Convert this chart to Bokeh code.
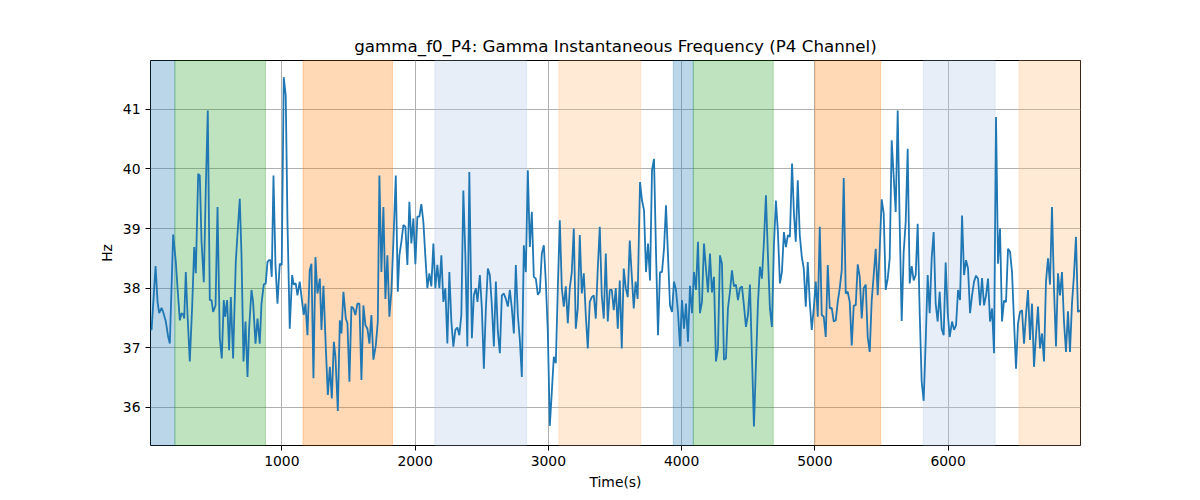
from bokeh.plotting import figure
from bokeh.models import Range1d, FixedTicker
from bokeh.embed import file_html
from bokeh.resources import INLINE

# sample times and gamma frequency
times = [14, 22, 52, 67, 79, 97, 109, 129, 147, 159, 184, 204, 217, 234, 247, 259, 267, 279, 292, 309,
         327, 342, 354, 372, 384, 397, 414, 429, 444, 459, 472, 484, 502, 517, 534, 549, 564, 574, 589, 604,
         617, 634, 654, 664, 684, 697, 712, 727, 742, 754, 772, 784, 802, 817, 834, 847, 864, 879, 892, 904,
         914, 924, 937, 952, 967, 984, 999, 1014, 1029, 1042, 1059, 1077, 1089, 1104, 1117, 1134, 1152, 1164,
         1177, 1192, 1209,
         1222, 1237, 1252, 1267, 1285, 1297, 1312, 1330, 1345, 1360, 1375, 1390, 1402, 1420, 1435, 1447, 1462,
         1480, 1492, 1507, 1522, 1537, 1552, 1567, 1582, 1597, 1612, 1627, 1642, 1657, 1672, 1687, 1705, 1720,
         1732, 1747, 1762, 1777, 1792, 1807, 1822, 1837, 1855, 1870, 1882, 1897, 1912, 1927, 1942, 1957, 1972,
         1987, 2002, 2017, 2032, 2047, 2062, 2077, 2092, 2107, 2122, 2137, 2152, 2167, 2182, 2197, 2212, 2227,
         2242, 2257, 2272, 2287, 2302, 2317, 2332, 2347, 2362, 2377, 2392, 2407,
         2426, 2441, 2456, 2468, 2486, 2501, 2516, 2531, 2546, 2561, 2576, 2591, 2606, 2621, 2636, 2651, 2666,
         2681, 2696, 2711, 2726, 2741, 2756, 2771, 2786, 2801, 2816, 2831, 2846, 2861, 2876, 2891, 2906, 2921,
         2936, 2951, 2966, 2981, 2996, 3011, 3026, 3041, 3056, 3071, 3086, 3101, 3116, 3131, 3146, 3161, 3176,
         3191, 3206, 3221, 3236, 3251, 3266, 3281, 3296, 3311, 3326, 3341, 3356, 3371, 3386, 3401, 3416, 3431,
         3446, 3461, 3476, 3491, 3506, 3521, 3536, 3551, 3566, 3581, 3596, 3611,
         3623, 3641, 3655, 3670, 3688, 3703, 3718, 3733, 3748, 3763, 3778, 3793, 3808, 3823, 3838, 3853, 3868,
         3883, 3898, 3913, 3928, 3943, 3958, 3973, 3988, 4003, 4018, 4033, 4048, 4063, 4078, 4093, 4108, 4123,
         4138, 4153, 4168, 4183, 4198, 4213, 4228, 4243, 4258, 4273, 4288, 4303, 4318, 4333, 4348, 4363, 4378,
         4393, 4408, 4423, 4438, 4453, 4468, 4483, 4498, 4513, 4528, 4543, 4558, 4573, 4588, 4603, 4618, 4633,
         4648, 4663, 4678, 4693, 4708, 4723, 4738, 4753, 4768, 4783, 4798, 4813,
         4829, 4844, 4857, 4872, 4887, 4902, 4917, 4932, 4947, 4962, 4977, 4992, 5007, 5022, 5037, 5052, 5067,
         5082, 5097, 5112, 5127, 5142, 5157, 5172, 5187, 5202, 5217, 5232, 5247, 5262, 5277, 5292, 5307, 5322,
         5337, 5352, 5367, 5382, 5397, 5412, 5427, 5442, 5457, 5472, 5487, 5502, 5517, 5532, 5547, 5562, 5577,
         5592, 5607, 5622, 5637, 5652, 5667, 5682, 5697, 5712, 5727, 5742, 5757, 5772, 5787, 5802, 5817, 5832,
         5847, 5862, 5877, 5892, 5907, 5922, 5937, 5952, 5967, 5982, 5997, 6012,
         6030, 6045, 6060, 6075, 6090, 6105, 6120, 6135, 6150, 6165, 6180, 6195, 6210, 6225, 6240, 6255, 6270,
         6285, 6300, 6315, 6330, 6345, 6360, 6375, 6390, 6405, 6420, 6435, 6450, 6465, 6480, 6495, 6510, 6525,
         6540, 6555, 6570, 6585, 6600, 6615, 6630, 6645, 6660, 6675, 6690, 6705, 6720, 6735, 6750, 6765, 6780,
         6795, 6810, 6825, 6840, 6855, 6870, 6885, 6900, 6915, 6930, 6945, 6960, 6975, 6990]

hz = [37.32, 37.30, 38.37, 37.77, 37.58, 37.67, 37.60, 37.44, 37.18, 37.07, 38.90, 38.44, 38.00, 37.46, 37.58,
      37.56, 37.49, 38.27, 37.55, 36.77, 37.71, 38.69, 38.25, 39.92, 39.89, 38.78, 38.10, 39.67, 40.98, 37.80,
      37.80, 37.60, 37.71, 39.36, 37.16, 36.82, 37.80, 37.52, 37.80, 36.96, 37.85, 36.82, 38.44, 38.80, 39.50,
      38.55, 36.77, 37.44, 36.51, 37.32, 37.97, 37.77, 37.07, 37.49, 37.07, 37.74, 38.06, 38.08, 38.44, 38.47,
      38.47, 38.19, 39.89, 38.39, 37.74, 38.41, 38.39, 41.54, 41.23, 39.11, 37.32, 38.22, 38.06, 38.08, 37.88,
      38.11, 37.77, 37.55, 37.74, 37.21, 38.30,
      38.41, 36.49, 38.52, 37.91, 38.16, 37.30, 38.04, 36.99, 36.21, 36.68, 36.15, 37.10, 36.85, 35.94, 37.46,
      37.24, 37.94, 37.49, 37.41, 36.43, 37.69, 37.66, 37.55, 37.74, 37.74, 36.46, 37.71, 37.38, 37.32, 37.07,
      37.55, 36.80, 37.04, 37.44, 39.89, 38.27, 39.36, 37.82, 38.55, 37.52, 37.94, 38.78, 39.89, 37.94, 38.55,
      38.78, 39.06, 39.03, 38.39, 39.45, 38.75, 39.17, 38.40, 39.20, 39.20, 39.41, 39.11, 38.53, 38.00, 38.25,
      38.03, 38.75, 38.00, 38.39, 38.00, 38.55, 37.77, 38.00, 37.07, 38.27, 37.44, 37.02, 37.30, 37.34, 37.21,
      37.55, 39.64, 38.55, 37.02, 39.95,
      37.16, 37.88, 38.00, 37.77, 38.22, 37.66, 36.65, 37.66, 38.33, 38.22, 37.71, 37.02, 38.11, 37.27, 36.91,
      37.88, 37.91, 37.82, 37.69, 37.97, 37.66, 37.24, 38.39, 37.55, 37.13, 36.51, 38.72, 38.27, 39.98, 38.69,
      39.28, 38.19, 38.16, 37.89, 37.94, 38.58, 38.72, 38.11, 37.27, 35.69, 36.26, 36.85, 36.74, 38.00, 39.14,
      38.00, 37.69, 38.03, 37.41, 38.00, 38.27, 39.00, 37.32, 37.66, 38.89, 37.91, 38.25, 37.55, 36.99, 37.77,
      37.85, 37.88, 37.49, 38.33, 39.03, 37.88, 37.49, 38.58, 37.44, 37.97, 37.97, 37.63, 38.00, 37.32, 38.13,
      36.99, 38.33, 38.00, 37.85, 38.80,
      38.33, 37.66, 38.11, 37.82, 39.78, 39.47, 39.31, 38.27, 38.75, 38.13, 39.98, 40.17, 38.61, 37.21, 38.27,
      38.27, 38.66, 39.39, 38.55, 37.71, 37.60, 38.11, 37.97, 37.60, 37.02, 37.80, 37.32, 37.74, 37.10, 38.04,
      37.58, 38.27, 37.97, 38.78, 37.58, 37.77, 38.75, 38.33, 37.93, 38.58, 37.93, 38.19, 36.77, 36.99, 38.55,
      38.41, 36.80, 36.82, 37.66, 37.94, 38.30, 38.03, 38.06, 37.80, 38.00, 38.03, 37.71, 37.35, 37.55, 38.06,
      36.88, 35.68, 36.71, 37.74, 38.36, 38.16, 38.78, 39.56, 38.55, 37.66, 37.35, 38.72, 39.47, 38.94, 38.08,
      38.27, 38.94, 38.69, 38.89, 38.86,
      40.09, 39.22, 38.78, 39.81, 38.89, 38.53, 38.33, 37.69, 38.44, 37.77, 37.30, 37.66, 38.11, 37.52, 39.03,
      37.55, 37.52, 37.18, 38.39, 37.66, 37.67, 37.44, 37.46, 37.77, 38.00, 38.30, 39.85, 37.91, 37.94, 37.77,
      37.04, 37.71, 37.71, 38.40, 38.19, 37.49, 38.00, 38.06, 37.18, 36.93, 37.80, 38.22, 38.66, 37.88, 38.66,
      39.49, 39.25, 37.97, 38.16, 38.50, 40.48, 39.87, 39.28, 40.98, 39.08, 37.45, 38.61, 39.11, 40.34, 38.08,
      38.37, 38.13, 38.22, 39.08, 37.60, 36.43, 36.11, 37.10, 38.22, 37.58, 38.50, 38.94, 37.74, 37.44, 37.94,
      37.32, 37.21, 38.43, 37.60, 37.18,
      37.44, 37.30, 37.38, 37.97, 37.80, 39.22, 38.22, 38.47, 38.33, 37.58, 37.88, 38.11, 38.21, 38.16, 37.71,
      38.17, 37.71, 37.88, 38.16, 37.44, 37.66, 36.91, 40.87, 38.41, 39.00, 37.44, 37.79, 37.77, 38.66, 38.61,
      38.27, 37.44, 36.65, 37.41, 37.60, 37.63, 37.07, 37.55, 37.97, 37.13, 37.74, 36.68, 37.21, 37.69, 36.99,
      37.24, 36.77, 38.11, 38.50, 38.06, 39.36, 38.00, 37.02, 38.25, 37.88, 38.27, 37.44, 36.93, 37.61, 36.93,
      37.74, 38.22, 38.86, 37.60, 37.63]

# shaded intervals
span_start = [14, 197, 1159, 2148, 3079, 3938, 4088, 5002, 5814, 6532]
span_end = [197, 877, 1830, 2836, 3693, 4088, 4688, 5494, 6353, 6994]
span_color = ["#1f77b4", "#2ca02c", "#ff7f0e", "#aec7e8", "#ffbb78",
              "#1f77b4", "#2ca02c", "#ff7f0e", "#aec7e8", "#ffbb78"]

x_lo, x_hi = 14, 6994
y_lo, y_hi = 35.36, 41.82

p = figure(width=1200, height=500,
           title="gamma_f0_P4: Gamma Instantaneous Frequency (P4 Channel)",
           x_axis_label="Time(s)", y_axis_label="Hz",
           x_range=Range1d(x_lo, x_hi), y_range=Range1d(y_lo, y_hi),
           toolbar_location=None, output_backend="svg",
           min_border_left=150, min_border_right=120,
           min_border_top=60, min_border_bottom=55)

p.quad(left=span_start, right=span_end, bottom=y_lo, top=y_hi,
       fill_color=span_color, fill_alpha=0.3,
       line_color=span_color, line_alpha=0.3, line_width=1)

p.line(times, hz, line_width=1.8, color="#1f77b4")

p.title.align = "center"
p.title.text_font = "DejaVu Sans"
p.title.text_font_size = "16.7px"
p.title.text_font_style = "normal"
p.title.text_color = "black"

for ax in (p.xaxis, p.yaxis):
    ax.axis_label_text_font = "DejaVu Sans"
    ax.axis_label_text_font_size = "13.9px"
    ax.axis_label_text_font_style = "normal"
    ax.axis_label_text_color = "black"
    ax.major_label_text_font = "DejaVu Sans"
    ax.major_label_text_font_size = "13.9px"
    ax.major_label_text_color = "black"
    ax.minor_tick_line_color = None
    ax.major_tick_out = 5
    ax.major_tick_in = 0
    ax.axis_line_color = None
    ax.major_tick_line_color = "black"

p.xaxis.ticker = FixedTicker(ticks=[1000, 2000, 3000, 4000, 5000, 6000])
p.yaxis.ticker = FixedTicker(ticks=[36, 37, 38, 39, 40, 41])

p.xgrid.grid_line_color = "#b0b0b0"
p.ygrid.grid_line_color = "#b0b0b0"
p.xgrid.grid_line_width = 1
p.ygrid.grid_line_width = 1

p.outline_line_color = "black"
p.outline_line_width = 1
p.outline_line_alpha = 1
p.background_fill_color = "white"
p.border_fill_color = "white"

open("out.html", "w").write(file_html(p, INLINE))
